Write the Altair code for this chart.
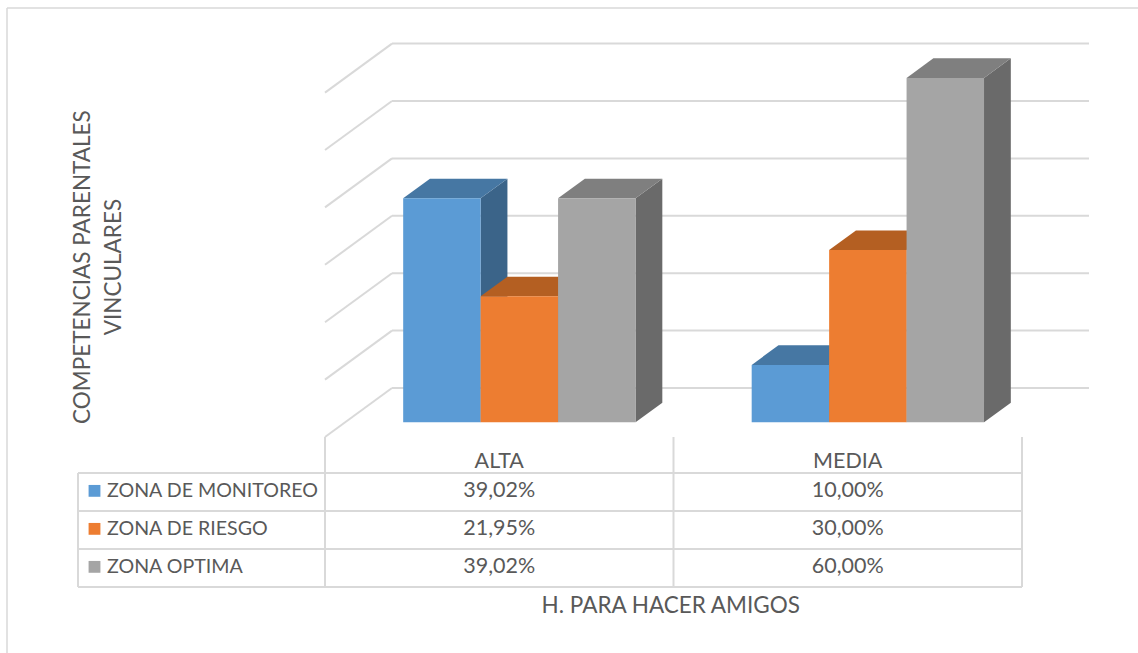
import altair as alt
import pandas as pd

# ---------------- data ----------------
categories = ["ALTA", "MEDIA"]
series = ["ZONA DE MONITOREO", "ZONA DE RIESGO", "ZONA OPTIMA"]
monitoreo = [39.02, 10.00]
riesgo = [21.95, 30.00]
optima = [39.02, 60.00]
grid_ticks = [0, 10, 20, 30, 40, 50, 60]
y_title = ["COMPETENCIAS PARENTALES", "VINCULARES"]
x_title = "H. PARA HACER AMIGOS"

front_colors = ["#5B9BD5", "#ED7D31", "#A5A5A5"]
top_colors = ["#4677A3", "#B45F22", "#7F7F7F"]
side_colors = ["#3B6489", "#9E521D", "#6A6A6A"]
TEXT = "#595959"
LINE = "#D9D9D9"
FONT = "Lato"
FS_LABEL = 19.6
FS_CELL = 21.5
FS_TITLE = 22.5

values = [monitoreo, riesgo, optima]

# ---------------- geometry (scale setup) ----------------
W, H = 1138, 653
ORIGIN_X, UNIT_X = 325, 348.5     # floor-front of category 0; pixels per category
ORIGIN_Y, UNIT_Y = 437, 5.74      # floor-front of value 0; pixels per percentage point
DX, DY = 67 / UNIT_X, 49 / UNIT_Y  # full floor depth, in data units
D0, D1 = 0.3, 0.7                  # bars occupy the middle of the depth
GAP = 1.5
BW = 1 / (len(series) + GAP)
ROW0, ROWH = 473, 38               # data table first row top, row height
LABEL_COL = -(ORIGIN_X - 78) / UNIT_X

xs = alt.Scale(domain=[-ORIGIN_X / UNIT_X, (W - ORIGIN_X) / UNIT_X], nice=False, zero=False)
ys = alt.Scale(domain=[(ORIGIN_Y - H) / UNIT_Y, ORIGIN_Y / UNIT_Y], nice=False, zero=False)
ts = alt.Scale(domain=[-ROW0 / ROWH, (H - ROW0) / ROWH], reverse=True, nice=False, zero=False)


def P(u, v, d):
    return u + DX * d, v + DY * d


fronts, sides, tops = [], [], []
for i, c in enumerate(categories):
    for j, s in enumerate(series):
        v = values[j][i]
        uL = i + GAP * BW / 2 + j * BW
        uR = uL + BW
        key = f"{c}-{j}"
        x0, y0 = P(uL, 0, D0)
        x1, y1 = P(uR, v, D0)
        fronts.append(dict(x=x0, x2=x1, y=y0, y2=y1, col=front_colors[j]))
        for d in (D0, D1):
            xa, ya = P(uR, 0, d)
            _, yb = P(uR, v, d)
            sides.append(dict(k=key, x=xa, y=ya, y2=yb, col=side_colors[j]))
            xl, yt = P(uL, v, d)
            xr, _ = P(uR, v, d)
            tops.append(dict(k=key, y=yt, x=xl, x2=xr, col=top_colors[j]))

back_grid = []
side_grid = []
for g in grid_ticks:
    xa, ya = P(0, g, 1)
    xb, _ = P(len(categories), g, 1)
    back_grid.append(dict(x=xa, x2=xb, y=ya, y2=ya))
    xf, yf = P(0, g, 0)
    side_grid.append(dict(x=xf, x2=xa, y=yf, y2=ya))

nrows = len(series)
header_top = (ORIGIN_Y - ROW0) / ROWH
hlines = [dict(x=LABEL_COL, x2=len(categories), y=r, y2=r) for r in range(nrows + 1)]
vlines = [dict(x=i, x2=i, y=header_top, y2=nrows) for i in range(len(categories) + 1)]
vlines.append(dict(x=LABEL_COL, x2=LABEL_COL, y=0, y2=nrows))
table_lines = hlines + vlines

cells = []
for i, c in enumerate(categories):
    cells.append(dict(x=i + 0.5, y=-0.30, t=c))
    for j in range(nrows):
        cells.append(dict(x=i + 0.5, y=j + 0.47, t=f"{values[j][i]:.2f}".replace(".", ",") + "%"))
labels = [dict(x=LABEL_COL + 29 / UNIT_X, y=j + 0.47, t=s) for j, s in enumerate(series)]
squares = [dict(x=LABEL_COL + 16.5 / UNIT_X, y=j + 0.47, col=front_colors[j]) for j in range(nrows)]

frame_left = (7 - ORIGIN_X) / UNIT_X
frame_top = (ORIGIN_Y - 8) / UNIT_Y
frame = [
    dict(x=frame_left, x2=frame_left, y=frame_top, y2=ys.domain[0]),
    dict(x=frame_left, x2=xs.domain[1], y=frame_top, y2=frame_top),
]

ytitle_df = pd.DataFrame([
    dict(x=(82.5 - ORIGIN_X) / UNIT_X, y=29.6, t=y_title[0]),
    dict(x=(114 - ORIGIN_X) / UNIT_X, y=29.6, t=y_title[1]),
])
xtitle_df = pd.DataFrame([dict(x=len(categories) / 2 - 0.008, y=nrows + 0.5, t=x_title)])

X = lambda f="x": alt.X(f"{f}:Q", scale=xs, axis=None)
X2 = lambda: alt.X2("x2:Q")
Yv = lambda f="y": alt.Y(f"{f}:Q", scale=ys, axis=None)
Yt = lambda f="y": alt.Y(f"{f}:Q", scale=ts, axis=None)

frame_l = alt.Chart(pd.DataFrame(frame)).mark_rule(color=LINE, strokeWidth=1.5).encode(
    x=X(), x2=X2(), y=Yv(), y2=alt.Y2("y2:Q"))
back_l = alt.Chart(pd.DataFrame(back_grid)).mark_rule(color=LINE, strokeWidth=2).encode(
    x=X(), x2=X2(), y=Yv(), y2=alt.Y2("y2:Q"))
sidegrid_l = alt.Chart(pd.DataFrame(side_grid)).mark_rule(color=LINE, strokeWidth=2).encode(
    x=X(), x2=X2(), y=Yv(), y2=alt.Y2("y2:Q"))
side_l = alt.Chart(pd.DataFrame(sides)).mark_area(opacity=1).encode(
    x=X(), y=Yv(), y2=alt.Y2("y2:Q"), detail="k:N", color=alt.Color("col:N", scale=None))
top_l = alt.Chart(pd.DataFrame(tops)).mark_area(orient="horizontal", opacity=1).encode(
    y=Yv(), x=X(), x2=X2(), detail="k:N", color=alt.Color("col:N", scale=None))
front_l = alt.Chart(pd.DataFrame(fronts)).mark_rect(opacity=1).encode(
    x=X(), x2=X2(), y=Yv(), y2=alt.Y2("y2:Q"), color=alt.Color("col:N", scale=None))
tlines_l = alt.Chart(pd.DataFrame(table_lines)).mark_rule(color=LINE, strokeWidth=2).encode(
    x=X(), x2=X2(), y=Yt(), y2=alt.Y2("y2:Q"))
cells_l = alt.Chart(pd.DataFrame(cells)).mark_text(
    font=FONT, fontSize=FS_CELL, color=TEXT, align="center", baseline="middle").encode(
    x=X(), y=Yt(), text="t:N")
labels_l = alt.Chart(pd.DataFrame(labels)).mark_text(
    font=FONT, fontSize=FS_LABEL, color=TEXT, align="left", baseline="middle").encode(
    x=X(), y=Yt(), text="t:N")
squares_l = alt.Chart(pd.DataFrame(squares)).mark_square(size=140, opacity=1).encode(
    x=X(), y=Yt(), color=alt.Color("col:N", scale=None))
xtitle_l = alt.Chart(xtitle_df).mark_text(
    font=FONT, fontSize=FS_TITLE, color=TEXT, align="center", baseline="middle").encode(
    x=X(), y=Yt(), text="t:N")
ytitle_l = alt.Chart(ytitle_df).mark_text(
    font=FONT, fontSize=FS_TITLE, color=TEXT, align="center", baseline="middle", angle=270).encode(
    x=X(), y=Yv(), text="t:N")

chart = alt.layer(
    frame_l, back_l, sidegrid_l, side_l, top_l, front_l,
    tlines_l, cells_l, labels_l, squares_l, xtitle_l, ytitle_l,
).resolve_scale(y="independent").properties(
    width=W, height=H, padding=0, background="white",
    autosize=alt.AutoSizeParams(type="none"),
).configure_view(stroke=None)

chart.save("out.html", embed_options={"renderer": "svg", "actions": False})
